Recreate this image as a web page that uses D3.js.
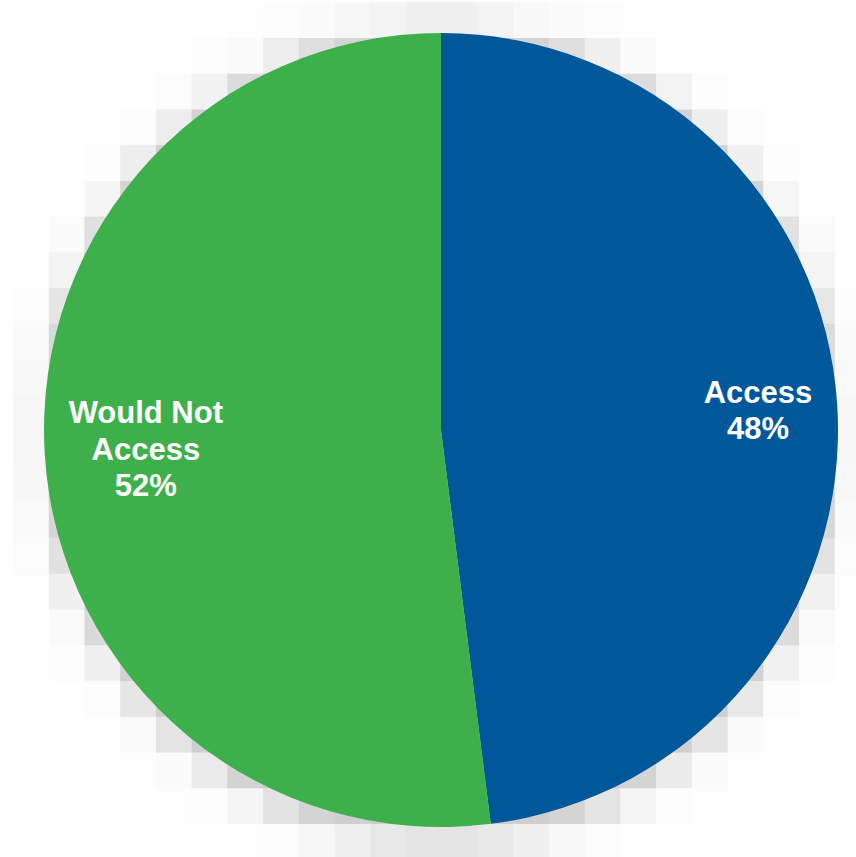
<!DOCTYPE html>
<html>
<head>
<meta charset="utf-8">
<script src="https://cdn.jsdelivr.net/npm/d3@7"></script>
<style>
  html, body { margin: 0; padding: 0; background: #fff; }
  svg { display: block; }
</style>
</head>
<body>
<svg width="856" height="857"></svg>
<script>
  // data
  const categories = ['Access', 'Would Not Access'];
  const values = [48, 52];
  const labelLines = [['Access', '48%'], ['Would Not', 'Access', '52%']];
  const colors = ['#00579a', '#3eb04b'];

  const width = 856, height = 857;
  const cx = 441, cy = 430, radius = 397;
  const labelRadius = [0.80, 0.745];

  const svg = d3.select('svg');

  // blocky soft shadow behind the pie
  const cell = 35.73, gx0 = 13 - cell, gy0 = 38 - cell;
  const shadow = { cx: 441, cy: 436, rx: 392, ry: 404 };
  const phi = t => 0.5 * (1 + erf(t / Math.SQRT2));
  function erf(x) {
    const s = Math.sign(x); x = Math.abs(x);
    const t = 1 / (1 + 0.3275911 * x);
    const y = 1 - (((((1.061405429 * t - 1.453152027) * t) + 1.421413741) * t - 0.284496736) * t + 0.254829592) * t * Math.exp(-x * x);
    return s * y;
  }
  const cells = [];
  for (let x = gx0; x < width; x += cell) {
    for (let y = gy0; y < height; y += cell) {
      const mx = x + cell / 2, my = y + cell / 2;
      const e = Math.hypot((mx - shadow.cx) / shadow.rx, (my - shadow.cy) / shadow.ry);
      const dist = (e - 1) * 398;
      const dark = 45 * phi(-(dist - 2) / 14) + 5 * phi(-(dist - 35) / 18);
      const g = Math.round(255 - dark);
      if (g < 255) cells.push({ x, y, g });
    }
  }
  svg.append('g')
    .selectAll('rect')
    .data(cells)
    .join('rect')
      .attr('x', d => d.x)
      .attr('y', d => d.y)
      .attr('width', cell + 0.5)
      .attr('height', cell + 0.5)
      .attr('fill', d => d3.rgb(d.g, d.g, d.g));

  // pie
  const pie = d3.pie().sort(null).value(d => d);
  const arcs = pie(values);
  const arc = d3.arc().innerRadius(0).outerRadius(radius);

  const g = svg.append('g').attr('transform', `translate(${cx},${cy})`);

  g.selectAll('path')
    .data(arcs)
    .join('path')
      .attr('d', arc)
      .attr('fill', (d, i) => colors[i]);

  // labels
  const fontSize = 31, lineH = 36.5;
  g.selectAll('text')
    .data(arcs)
    .join('text')
      .attr('text-anchor', 'middle')
      .attr('fill', '#fff')
      .attr('font-family', '"Liberation Sans", Arial, sans-serif')
      .attr('font-weight', 'bold')
      .attr('font-size', fontSize)
      .each(function (d, i) {
        const a = (d.startAngle + d.endAngle) / 2;
        const r = radius * labelRadius[i];
        const x = r * Math.sin(a), y = -r * Math.cos(a);
        const lines = labelLines[i];
        const top = y - (lines.length - 1) * lineH / 2 + fontSize * 0.36;
        d3.select(this).selectAll('tspan')
          .data(lines)
          .join('tspan')
            .attr('x', x)
            .attr('y', (l, j) => top + j * lineH)
            .text(l => l);
      });
</script>
</body>
</html>
